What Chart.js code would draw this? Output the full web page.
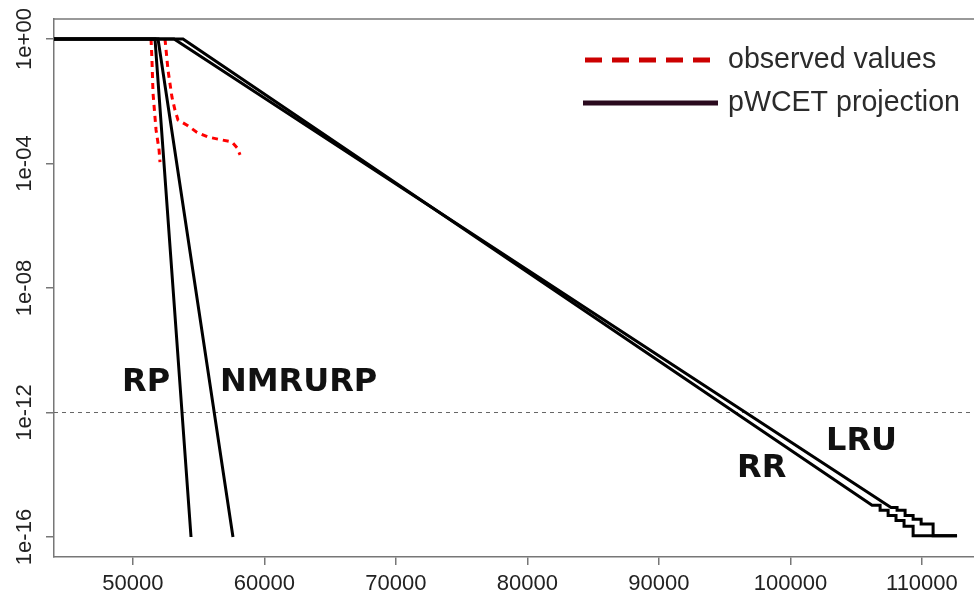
<!DOCTYPE html>
<html>
<head>
<meta charset="utf-8">
<style>
	body { margin: 0; background: #fff; }
	canvas { display: block; }
</style>
</head>
<body>
<canvas id="myChart" width="974" height="595"></canvas>

<script src="https://cdn.jsdelivr.net/npm/chart.js"></script>
<script>
	// tick positions and labels
	const xTicks = [50000, 60000, 70000, 80000, 90000, 100000, 110000]
	const yTicks = [1, 1e-4, 1e-8, 1e-12, 1e-16]
	const yTickLabels = ['1e+00', '1e-04', '1e-08', '1e-12', '1e-16']

	// pWCET projections (exceedance probability vs execution time)
	const rpX = [44000, 51680, 54420]
	const rpY = [1, 1, 1e-16]
	const nmrurpX = [44000, 51910, 57610]
	const nmrurpY = [1, 1, 1e-16]
	const lruX = [44000, 53130, 107650, 108110, 108110, 108720, 108720, 109330, 109330, 109940, 109940, 110850, 110850, 112670]
	const lruY = [1, 1, 8.9e-16, 8.9e-16, 7.2e-16, 7.2e-16, 4.9e-16, 4.9e-16, 3.7e-16, 3.7e-16, 2.6e-16, 2.6e-16, 1.1e-16, 1.1e-16]
	const rrX = [44000, 53810, 106210, 106820, 106820, 107430, 107430, 108030, 108030, 108640, 108640, 109330, 109330, 112670]
	const rrY = [1, 1, 1.04e-15, 1.04e-15, 7.2e-16, 7.2e-16, 4.9e-16, 4.9e-16, 3.4e-16, 3.4e-16, 2.2e-16, 2.2e-16, 1.1e-16, 1.1e-16]

	// observed values (empirical exceedance)
	const obs1X = [51380, 51450, 51530, 51760, 51990, 52060]
	const obs1Y = [1, 0.21, 0.018, 1.2e-3, 2.7e-4, 1.1e-4]
	const obs2X = [52440, 52670, 52970, 53200, 53430, 54120, 54880, 55710, 56780, 57540, 57920, 58150]
	const obs2Y = [1, 0.1, 0.0136, 5.2e-3, 2.5e-3, 1.7e-3, 1.0e-3, 7.1e-4, 5.7e-4, 4.9e-4, 3.2e-4, 1.9e-4]

	// threshold line
	const threshold = 1e-12

	// curve names placed on the plot
	const curveNames = ['RP', 'NMRURP', 'LRU', 'RR']
	const curveNameX = [49170, 56620, 102710, 95940]
	const curveNameY = [4.8e-12, 4.8e-12, 6.1e-14, 8.3e-15]

	const legendLabels = ['observed values', 'pWCET projection']

	const xMin = 44000, xMax = 113960

	const pts = (xs, ys) => xs.map((x, i) => ({ x: x, y: ys[i] }))

	const solid = (label, xs, ys) => ({
		label: label,
		data: pts(xs, ys),
		borderColor: '#000',
		borderWidth: 3,
		pointRadius: 0,
		tension: 0,
	})
	const dotted = (label, xs, ys) => ({
		label: label,
		data: pts(xs, ys),
		borderColor: '#ff0000',
		borderWidth: 3,
		borderDash: [6, 5],
		pointRadius: 0,
		tension: 0,
	})

	const decorations = {
		id: 'decorations',
		afterDraw(chart) {
			const ctx = chart.ctx
			const a = chart.chartArea
			const xs = chart.scales.x, ys = chart.scales.y
			ctx.save()
			// top of the box
			ctx.strokeStyle = '#777'
			ctx.lineWidth = 1.5
			ctx.beginPath()
			ctx.moveTo(a.left, a.top)
			ctx.lineTo(a.right, a.top)
			ctx.stroke()

			// y tick labels, read bottom to top like R does
			ctx.fillStyle = '#222'
			ctx.font = '22px "Liberation Sans"'
			ctx.textAlign = 'center'
			ctx.textBaseline = 'middle'
			yTicks.forEach((v, i) => {
				ctx.save()
				ctx.translate(25, ys.getPixelForValue(v))
				ctx.rotate(-Math.PI / 2)
				ctx.fillText(yTickLabels[i], 0, 0)
				ctx.restore()
			})

			// curve names
			ctx.fillStyle = '#111'
			ctx.font = 'bold 32px "DejaVu Sans"'
			ctx.textBaseline = 'alphabetic'
			ctx.textAlign = 'left'
			curveNames.forEach((n, i) => {
				ctx.fillText(n, xs.getPixelForValue(curveNameX[i]), ys.getPixelForValue(curveNameY[i]))
			})

			// legend
			ctx.lineWidth = 5
			ctx.setLineDash([17, 10])
			ctx.strokeStyle = '#cc0000'
			ctx.beginPath()
			ctx.moveTo(585, 60)
			ctx.lineTo(720, 60)
			ctx.stroke()
			ctx.setLineDash([])
			ctx.strokeStyle = '#2a0a1e'
			ctx.beginPath()
			ctx.moveTo(583, 103)
			ctx.lineTo(718, 103)
			ctx.stroke()
			ctx.fillStyle = '#2b2b2b'
			ctx.font = '28.6px "Liberation Sans"'
			ctx.textBaseline = 'middle'
			ctx.fillText(legendLabels[0], 728, 60)
			ctx.fillText(legendLabels[1], 728, 103)
			ctx.restore()
		}
	}

	const chart = new Chart(
		document.getElementById('myChart'),
		{
			type: 'line',
			data: {
				datasets: [
					solid('RP', rpX, rpY),
					solid('NMRURP', nmrurpX, nmrurpY),
					solid('LRU', lruX, lruY),
					solid('RR', rrX, rrY),
					dotted('observed 1', obs1X, obs1Y),
					dotted('observed 2', obs2X, obs2Y),
					{
						label: 'threshold',
						data: pts([xMin, xMax], [threshold, threshold]),
						borderColor: '#666',
						borderWidth: 1,
						borderDash: [4, 4],
						pointRadius: 0,
					},
				]
			},
			options: {
				responsive: false,
				animation: false,
				layout: { padding: { top: 19, right: 0, left: 0, bottom: 0 } },
				plugins: {
					legend: { display: false },
					tooltip: { enabled: false },
				},
				scales: {
					x: {
						type: 'linear',
						min: xMin,
						max: xMax,
						afterBuildTicks: s => { s.ticks = xTicks.map(v => ({ value: v })) },
						afterFit: s => { s.height = 38 },
						ticks: {
							autoSkip: false,
							maxRotation: 0,
							padding: 6,
							color: '#222',
							font: { family: 'Liberation Sans', size: 22 },
							callback: v => String(v),
						},
						grid: { drawOnChartArea: false, drawTicks: true, tickLength: 8, color: '#777', lineWidth: 1.5 },
						border: { color: '#777', width: 1.5 },
					},
					y: {
						type: 'logarithmic',
						min: 2.28e-17,
						max: 4.39,
						afterBuildTicks: s => { s.ticks = yTicks.map(v => ({ value: v })) },
						afterFit: s => { s.width = 54 },
						ticks: { display: false },
						grid: { drawOnChartArea: false, drawTicks: true, tickLength: 8, color: '#777', lineWidth: 1.5 },
						border: { color: '#777', width: 1.5 },
					},
				},
			},
			plugins: [decorations],
		}
	)
</script>
</body>
</html>
